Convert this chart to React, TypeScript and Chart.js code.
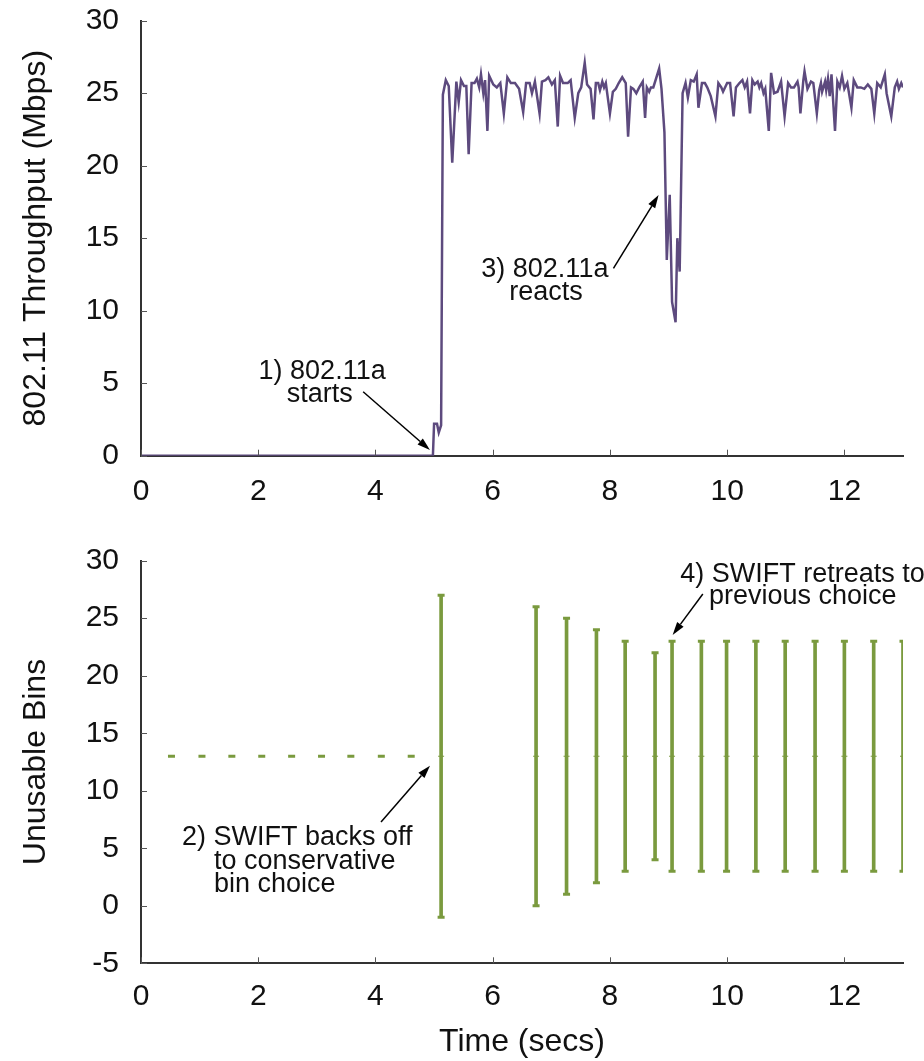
import React, { useEffect, useRef } from 'react';
import { Chart, registerables } from 'chart.js';

Chart.register(...registerables);

// ---------- DATA ----------
const throughputTimes = [
  0, 4.98, 5.0, 5.05, 5.08, 5.12, 5.15, 5.2, 5.25, 5.31, 5.38, 5.42, 5.46, 5.51, 5.55, 5.59, 5.64, 5.69, 5.73,
  5.77, 5.8, 5.84, 5.87, 5.91, 5.94, 6.01, 6.07, 6.13, 6.19, 6.25, 6.31, 6.38, 6.45, 6.52, 6.57, 6.63, 6.67,
  6.72, 6.8, 6.84, 6.9, 6.95, 7.01, 7.06, 7.11, 7.15, 7.2, 7.28, 7.33, 7.4, 7.46, 7.51, 7.57, 7.61, 7.67, 7.72,
  7.76, 7.8, 7.83, 7.87, 7.9, 7.93, 8.0, 8.05, 8.1, 8.15, 8.21, 8.27, 8.31, 8.36, 8.4, 8.45, 8.5, 8.56, 8.6,
  8.63, 8.67, 8.7, 8.74, 8.84, 8.88, 8.93, 8.97, 9.02, 9.06, 9.12, 9.15, 9.19, 9.24, 9.29, 9.33, 9.38, 9.43,
  9.48, 9.51, 9.57, 9.62, 9.66, 9.72, 9.8, 9.85, 9.9, 9.93, 10.0, 10.05, 10.11, 10.15, 10.21, 10.26, 10.3,
  10.34, 10.39, 10.43, 10.47, 10.52, 10.55, 10.58, 10.62, 10.65, 10.71, 10.75, 10.8, 10.86, 10.92, 10.98,
  11.04, 11.09, 11.14, 11.2, 11.22, 11.25, 11.3, 11.32, 11.37, 11.43, 11.47, 11.53, 11.57, 11.6, 11.62,
  11.67, 11.69, 11.72, 11.75, 11.78, 11.84, 11.88, 11.92, 11.96, 12.0, 12.05, 12.12, 12.16, 12.22, 12.28,
  12.34, 12.4, 12.46, 12.51, 12.56, 12.62, 12.69, 12.72, 12.8, 12.86, 12.9, 12.93, 12.97, 13.0,
];
const throughputMbps = [
  0, 0, 2.2, 2.2, 1.6, 2.1, 24.9, 25.9, 25.5, 20.2, 25.8, 24.4, 25.9, 25.5, 25.5, 20.8, 25.7, 25.7, 26.0,
  25.4, 26.3, 25.0, 25.9, 22.4, 26.2, 25.6, 25.4, 25.7, 23.6, 26.1, 25.7, 25.7, 25.3, 23.7, 25.7, 25.7, 25.0,
  25.8, 23.6, 25.8, 25.9, 26.1, 25.6, 25.9, 22.7, 26.2, 25.7, 25.7, 25.9, 23.3, 25.0, 25.4, 27.1, 25.6, 25.3, 23.2,
  25.7, 25.7, 25.2, 25.8, 25.4, 25.7, 23.6, 25.1, 25.3, 25.7, 26.1, 25.7, 22.0, 25.4, 25.3, 25.0, 25.4, 25.8, 23.3,
  25.4, 25.1, 25.4, 25.4, 26.7, 25.3, 22.3, 13.5, 18.0, 10.6, 9.2, 15.0, 12.7, 25.0, 25.7, 24.7, 25.9, 25.8,
  26.3, 24.0, 25.7, 25.7, 25.4, 24.8, 23.4, 25.7, 25.4, 25.1, 25.7, 25.7, 23.4, 25.4, 25.7, 25.9, 25.4,
  25.8, 23.6, 25.9, 25.6, 25.8, 25.4, 25.7, 25.0, 25.3, 22.4, 26.4, 25.0, 25.1, 25.8, 23.4,
  25.7, 25.4, 25.4, 25.8, 25.4, 23.6, 25.9, 26.5, 25.3, 25.8, 25.7, 23.6, 25.2, 25.7, 25.1,
  25.8, 25.2, 26.0, 24.8, 26.3, 22.4, 25.8, 25.4, 26.2, 25.3, 25.7, 24.0, 25.9, 25.4, 25.4,
  25.3, 25.6, 25.3, 23.6, 25.7, 25.4, 26.3, 25.0, 23.4, 25.4, 25.8, 25.3, 25.7, 25.4,
];

const initialTimes = [0.52, 1.04, 1.55, 2.06, 2.57, 3.08, 3.58, 4.1, 4.61];
const initialBins = [13, 13, 13, 13, 13, 13, 13, 13, 13];

const rangeTimes = [5.12, 6.74, 7.26, 7.77, 8.26, 8.77, 9.06, 9.56, 9.99, 10.49, 10.99, 11.5, 12.0, 12.5, 13.0];
const rangeHigh = [27, 26, 25, 24, 23, 22, 23, 23, 23, 23, 23, 23, 23, 23, 23];
const rangeLow = [-1, 0, 1, 2, 3, 4, 3, 3, 3, 3, 3, 3, 3, 3, 3];
const rangeMid = [13, 13, 13, 13, 13, 13, 13, 13, 13, 13, 13, 13, 13, 13, 13];

const xTickValues = [0, 2, 4, 6, 8, 10, 12];
const yTicksTop = [0, 5, 10, 15, 20, 25, 30];
const yTicksBottom = [-5, 0, 5, 10, 15, 20, 25, 30];

// ---------- STYLE ----------
const FONT = "'Liberation Sans', Arial, Helvetica, sans-serif";
const PURPLE = '#5d4a7e';
const GREEN = '#7a9a3e';
const AXIS = '#333333';
const W = 924;
const TOP_H = 510;
const BOT_H = 551;

type Note = { x: number; y: number; text: string; align: CanvasTextAlign };
type Arrow = { x1: number; y1: number; x2: number; y2: number };

const inwardTicks = {
  id: 'inwardTicks',
  afterDraw(chart: any) {
    const { ctx, chartArea } = chart;
    const xs = chart.scales.x;
    const ys = chart.scales.y;
    ctx.save();
    ctx.strokeStyle = '#555';
    ctx.lineWidth = 1;
    ctx.beginPath();
    xs.ticks.forEach((t: any) => {
      const px = Math.round(xs.getPixelForValue(t.value)) + 0.5;
      ctx.moveTo(px, chartArea.bottom);
      ctx.lineTo(px, chartArea.bottom - 6);
    });
    ys.ticks.forEach((t: any) => {
      const py = Math.round(ys.getPixelForValue(t.value)) + 0.5;
      ctx.moveTo(chartArea.left, py);
      ctx.lineTo(chartArea.left + 6, py);
    });
    ctx.stroke();
    ctx.restore();
  },
};

function makeNotes(id: string, notes: Note[], arrows: Arrow[]) {
  return {
    id,
    afterDraw(chart: any) {
      const { ctx } = chart;
      const xs = chart.scales.x;
      const ys = chart.scales.y;
      ctx.save();
      ctx.fillStyle = '#111';
      ctx.font = `27px ${FONT}`;
      ctx.textBaseline = 'middle';
      notes.forEach((n) => {
        ctx.textAlign = n.align;
        ctx.fillText(n.text, xs.getPixelForValue(n.x), ys.getPixelForValue(n.y));
      });
      ctx.strokeStyle = '#000';
      ctx.lineWidth = 1.5;
      arrows.forEach((a) => {
        const x1 = xs.getPixelForValue(a.x1);
        const y1 = ys.getPixelForValue(a.y1);
        const x2 = xs.getPixelForValue(a.x2);
        const y2 = ys.getPixelForValue(a.y2);
        const ang = Math.atan2(y2 - y1, x2 - x1);
        const hl = 13;
        const hw = 4;
        const bx = x2 - hl * Math.cos(ang);
        const by = y2 - hl * Math.sin(ang);
        ctx.beginPath();
        ctx.moveTo(x1, y1);
        ctx.lineTo(bx, by);
        ctx.stroke();
        ctx.beginPath();
        ctx.moveTo(x2, y2);
        ctx.lineTo(bx + hw * Math.sin(ang), by - hw * Math.cos(ang));
        ctx.lineTo(bx - hw * Math.sin(ang), by + hw * Math.cos(ang));
        ctx.closePath();
        ctx.fillStyle = '#000';
        ctx.fill();
      });
      ctx.restore();
    },
  };
}

function baseScales(
  yTicks: number[],
  yMin: number,
  yMax: number,
  yTitle: string,
  xHeight: number,
  showXTitle: boolean,
  xPad: number,
) {
  return {
    x: {
      type: 'linear',
      min: 0,
      max: 13,
      offset: false,
      z: 1,
      afterBuildTicks: (s: any) => {
        s.ticks = xTickValues.map((v) => ({ value: v }));
      },
      afterFit: (s: any) => {
        s.height = xHeight;
        s.paddingLeft = 0;
        s.paddingRight = 0;
      },
      grid: { display: false, drawTicks: false },
      border: { display: true, color: AXIS, width: 2 },
      ticks: {
        color: '#111',
        font: { family: FONT, size: 30 },
        padding: xPad,
        maxRotation: 0,
        autoSkip: false,
      },
      title: {
        display: showXTitle,
        text: 'Time (secs)',
        color: '#111',
        font: { family: FONT, size: 32 },
        padding: { top: 0, bottom: 0 },
      },
    },
    y: {
      type: 'linear',
      min: yMin,
      max: yMax,
      z: 1,
      afterBuildTicks: (s: any) => {
        s.ticks = yTicks.map((v) => ({ value: v }));
      },
      afterFit: (s: any) => {
        s.width = 141;
        s.paddingTop = 0;
        s.paddingBottom = 0;
      },
      grid: { display: false, drawTicks: false },
      border: { display: true, color: AXIS, width: 2 },
      ticks: {
        color: '#111',
        font: { family: FONT, size: 30 },
        padding: 22,
        autoSkip: false,
      },
      title: {
        display: true,
        text: yTitle,
        color: '#111',
        font: { family: FONT, size: 32 },
        padding: { top: 17, bottom: 0 },
      },
    },
  };
}

export default function App() {
  const topRef = useRef<HTMLCanvasElement>(null);
  const botRef = useRef<HTMLCanvasElement>(null);

  useEffect(() => {
    const topNotes: Note[] = [
      { x: 3.09, y: 5.77, text: '1) 802.11a', align: 'center' },
      { x: 3.05, y: 4.19, text: 'starts', align: 'center' },
      { x: 6.89, y: 12.81, text: '3) 802.11a', align: 'center' },
      { x: 6.91, y: 11.22, text: 'reacts', align: 'center' },
    ];
    const topArrows: Arrow[] = [
      { x1: 3.79, y1: 4.41, x2: 4.93, y2: 0.39 },
      { x1: 8.06, y1: 12.92, x2: 8.83, y2: 17.98 },
    ];
    const botNotes: Note[] = [
      { x: 0.7, y: 5.9, text: '2) SWIFT backs off', align: 'left' },
      { x: 1.246, y: 3.81, text: 'to conservative', align: 'left' },
      { x: 1.246, y: 1.81, text: 'bin choice', align: 'left' },
      { x: 9.2, y: 28.77, text: '4) SWIFT retreats to', align: 'left' },
      { x: 9.69, y: 26.85, text: 'previous choice', align: 'left' },
    ];
    const botArrows: Arrow[] = [
      { x1: 4.095, y1: 7.29, x2: 4.93, y2: 12.18 },
      { x1: 9.585, y1: 27.11, x2: 9.07, y2: 23.55 },
    ];

    const top = new Chart(topRef.current as HTMLCanvasElement, {
      type: 'line',
      data: {
        datasets: [
          {
            data: throughputTimes.map((t, i) => ({ x: t, y: throughputMbps[i] })),
            borderColor: PURPLE,
            borderWidth: 2.5,
            pointRadius: 0,
            tension: 0,
            fill: false,
          },
        ],
      },
      options: {
        responsive: false,
        animation: false,
        events: [],
        layout: { padding: { left: 0, right: 21, top: 20.7, bottom: 0 } },
        plugins: { legend: { display: false }, tooltip: { enabled: false } },
        scales: baseScales(yTicksTop, 0, 30, '802.11 Throughput (Mbps)', TOP_H - 455.7, false, 18) as any,
      },
      plugins: [inwardTicks, makeNotes('notesTop', topNotes, topArrows)],
    });

    const bottom = new Chart(botRef.current as HTMLCanvasElement, {
      type: 'bar',
      data: {
        datasets: [
          {
            type: 'bar',
            data: rangeTimes.map((t, i) => ({ x: t, y: [rangeLow[i], rangeHigh[i]] })) as any,
            backgroundColor: GREEN,
            borderWidth: 0,
            barThickness: 3,
          },
          {
            type: 'scatter',
            data: [
              ...rangeTimes.map((t, i) => ({ x: t, y: rangeHigh[i] })),
              ...rangeTimes.map((t, i) => ({ x: t, y: rangeLow[i] })),
            ],
            pointStyle: 'line',
            pointRadius: 3.5,
            borderWidth: 3,
            borderColor: GREEN,
            backgroundColor: GREEN,
          },
          {
            type: 'scatter',
            data: rangeTimes.map((t, i) => ({ x: t, y: rangeMid[i] })),
            pointStyle: 'line',
            pointRadius: 3,
            borderWidth: 1,
            borderColor: GREEN,
            backgroundColor: GREEN,
          },
          {
            type: 'scatter',
            data: initialTimes.map((t, i) => ({ x: t, y: initialBins[i] })),
            pointStyle: 'line',
            pointRadius: 3.5,
            borderWidth: 3,
            borderColor: GREEN,
            backgroundColor: GREEN,
          },
        ] as any,
      },
      options: {
        responsive: false,
        animation: false,
        events: [],
        layout: { padding: { left: 0, right: 21, top: 50.7, bottom: 0 } },
        plugins: { legend: { display: false }, tooltip: { enabled: false } },
        scales: baseScales(yTicksBottom, -5, 30, 'Unusable Bins', BOT_H - 453.3, true, 15) as any,
      },
      plugins: [inwardTicks, makeNotes('notesBot', botNotes, botArrows)],
    });

    return () => {
      top.destroy();
      bottom.destroy();
    };
  }, []);

  return (
    <div style={{ position: 'absolute', left: 0, top: 0, width: W, height: TOP_H + BOT_H, background: '#fff' }}>
      <canvas ref={topRef} width={W} height={TOP_H} style={{ display: 'block', width: W, height: TOP_H }} />
      <canvas ref={botRef} width={W} height={BOT_H} style={{ display: 'block', width: W, height: BOT_H }} />
    </div>
  );
}
